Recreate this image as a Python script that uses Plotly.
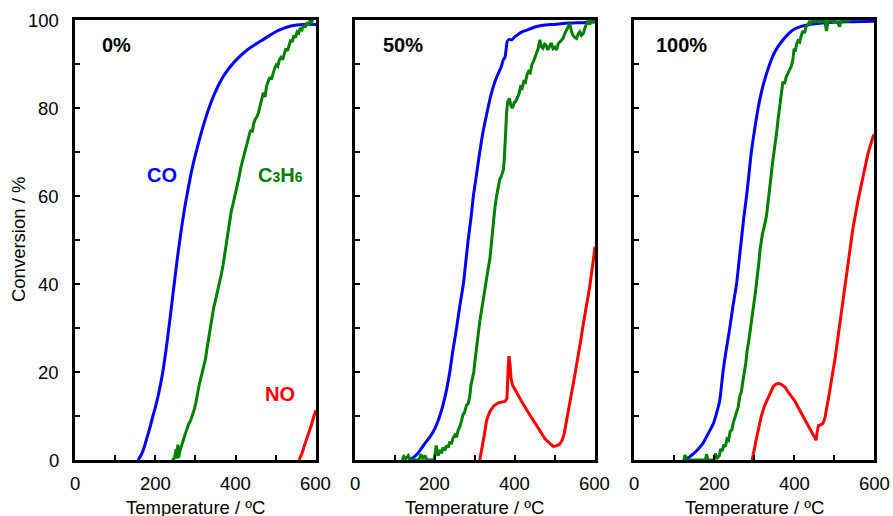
import plotly.graph_objects as go

# Light-off curves: (temperature / degC, conversion / %) for each feed condition

# ---- 0% ----
co_0 = [(157, 0), (165, 1.2), (172, 2.8), (179, 5), (187, 7.5), (194, 10), (201, 12.3),
        (208, 15), (214, 17.7), (220, 20.8), (226, 24.6), (233, 29.5), (240, 34.7),
        (247, 40), (254, 45.2), (261, 50), (268, 54.4), (275, 58.3), (283, 62.3),
        (292, 66.4), (303, 70.5), (317, 75.2), (332, 79.6), (350, 83.8), (372, 87.6),
        (398, 90.6), (430, 93.3), (469, 95.6), (505, 97.6), (540, 98.7), (570, 99),
        (600, 99)]
c3h6_0 = [(242, 0), (248, 0.5), (252, 2.5), (254, 0.3), (256, 3.5), (258, 0.5), (261, 2),
          (264, 3), (268, 4.2), (273, 5.5), (278, 6.8), (283, 8.2), (288, 9), (293, 10.2),
          (297, 11.5), (301, 13), (305, 15.5), (309, 17), (313, 18.5), (317, 20), (321, 21),
          (325, 23), (329, 25.5), (333, 28), (337, 30.5), (341, 32.5), (345, 34.5),
          (349, 36), (353, 37.5), (357, 39), (361, 40.5), (365, 42.5), (369, 44.5),
          (373, 47), (377, 49.5), (381, 51.5), (385, 54), (389, 56.5), (393, 58),
          (397, 59.5), (401, 61), (405, 62.5), (409, 64.5), (413, 66.5), (417, 68),
          (421, 69.5), (425, 71), (429, 72), (433, 73.5), (437, 75), (441, 74.5),
          (445, 76.5), (449, 77.5), (453, 78), (457, 79), (461, 80.5), (465, 82.5),
          (469, 83.5), (473, 82.5), (477, 85), (481, 86), (485, 87), (489, 86.5),
          (493, 88), (497, 89), (501, 89.8), (505, 89.5), (509, 91), (513, 91.5),
          (517, 91), (521, 92.5), (525, 93.5), (529, 93), (533, 94.5), (537, 95.5),
          (541, 95), (545, 96.5), (549, 96), (553, 97.3), (557, 97), (561, 98.2),
          (565, 97.8), (569, 98.8), (573, 98.3), (577, 99.2), (581, 99), (585, 99.8),
          (589, 99.5), (592, 100)]
no_0 = [(558, 0), (565, 1.5), (572, 3.5), (580, 5.5), (588, 7.8), (595, 10), (600, 11.3)]

# ---- 50% ----
co_50 = [(135, 0), (145, 0.5), (155, 1.3), (165, 2.5), (175, 3.8), (187, 5.2), (200, 7.2),
         (212, 10), (220, 12.5), (229, 16), (237, 20), (245, 25), (254, 30), (262, 35),
         (271, 40), (277, 45), (283, 50), (290, 55), (296, 60), (304, 65), (312, 70),
         (320, 74.5), (329, 78.5), (340, 83), (350, 86), (358, 87.8), (366, 89.5),
         (371, 91), (375, 91.5), (378, 93.5), (381, 95.2), (386, 95.6), (392, 95.5),
         (400, 96.2), (410, 96.9), (420, 97.4), (433, 97.8), (450, 98.4), (470, 98.8),
         (496, 99), (537, 99.3), (570, 99.4), (600, 99.6)]
c3h6_50 = [(118, 0), (122, 0.8), (127, 0.3), (133, 1), (138, 0), (160, 0), (165, 1.3),
           (170, 0.2), (175, 1), (180, 0), (198, 0), (203, 3.3), (208, 1), (212, 2.3),
           (216, 1.5), (220, 2.8), (225, 2.2), (229, 3.3), (233, 2.8), (237, 4.2),
           (241, 3.6), (245, 5), (250, 5.7), (254, 5.2), (258, 6.8), (262, 7.5),
           (266, 8.8), (270, 10.3), (274, 10.8), (279, 12.5), (283, 12.8), (287, 14.5),
           (290, 17), (293, 18.5), (297, 20), (300, 22.5), (304, 25), (308, 28.5),
           (312, 31.5), (316, 34), (320, 36.5), (324, 38.5), (329, 41), (333, 43.5),
           (337, 45.5), (342, 50), (346, 54.5), (350, 57.5), (354, 60), (358, 62),
           (362, 63.8), (366, 64.5), (371, 66), (373, 68), (375, 70.5), (377, 75),
           (379, 79), (382, 81.5), (386, 82.2), (390, 80.5), (394, 80), (398, 81.2),
           (402, 81.5), (406, 82.5), (410, 83.2), (414, 84.8), (418, 84.5), (422, 86),
           (426, 85.8), (430, 87.5), (434, 88.3), (438, 88), (442, 89.8), (446, 90.5),
           (450, 91.3), (454, 92.5), (458, 93.5), (462, 95.5), (466, 94), (470, 93.6),
           (474, 94.5), (478, 94.2), (482, 93.2), (487, 94), (491, 94.8), (495, 93.5),
           (500, 93.8), (504, 93.2), (508, 94.6), (512, 95), (516, 95.3), (520, 95.8),
           (524, 96.8), (528, 97.5), (532, 98.2), (537, 99.2), (541, 97.5), (545, 96.5),
           (550, 96), (554, 95.8), (558, 96.8), (562, 97.3), (566, 96.5), (571, 97),
           (575, 98.2), (579, 99.2), (583, 99.6), (587, 99), (591, 99.8), (596, 99.5),
           (600, 99.8)]
no_50 = [(312, 0), (317, 3), (323, 5.5), (329, 9), (337, 11), (346, 12.2), (358, 13),
         (375, 13.3), (380, 14), (383, 21), (385, 23.6), (388, 21.5), (390, 18.5),
         (394, 17), (404, 15.5), (416, 13.4), (429, 11.4), (446, 9), (462, 6.8),
         (475, 4.8), (487, 3.8), (496, 3.1), (504, 3.2), (512, 3.6), (518, 4.5),
         (523, 6), (529, 9), (535, 12.5), (542, 15.5), (550, 19.5), (557, 23),
         (564, 27), (571, 31), (579, 35), (587, 39.5), (596, 45.5), (600, 48.5)]

# ---- 100% ----
co_100 = [(128, 0), (135, 0.5), (145, 1.2), (155, 2), (165, 3), (172, 3.8), (185, 6),
          (198, 8.3), (207, 11), (214, 13.6), (222, 20), (230, 25), (239, 30), (247, 35),
          (256, 40), (262, 45), (268, 50), (274, 55), (281, 60), (287, 65), (293, 70),
          (301, 75), (310, 80), (322, 85), (339, 90), (352, 92.8), (368, 95), (385, 96.8),
          (402, 98), (420, 98.6), (440, 99), (470, 99.3), (500, 99.5), (550, 99.6),
          (600, 99.7)]
c3h6_100 = [(124, 0), (127, 1.2), (130, 0), (178, 0), (181, 1.3), (184, 0), (200, 0),
            (203, 1.5), (206, 0.3), (213, 1), (216, 2.5), (220, 2), (224, 3.5), (228, 3),
            (232, 4.8), (236, 4.5), (240, 6.5), (244, 6.8), (248, 8.5), (252, 9.5),
            (256, 11), (260, 12), (264, 14.5), (268, 15.5), (272, 18), (276, 19.8),
            (279, 22), (282, 24.5), (285, 27), (288, 28), (291, 30), (294, 32.5),
            (297, 34), (300, 36), (303, 38), (306, 40), (309, 42.5), (312, 45), (315, 48),
            (318, 50), (321, 51.5), (324, 52.5), (328, 54), (331, 55.5), (334, 58),
            (337, 60), (340, 62.5), (343, 65), (346, 67.5), (350, 70), (353, 72.5),
            (357, 75), (360, 77.5), (364, 80), (368, 83), (372, 86), (376, 85.5),
            (380, 87), (385, 88), (389, 89), (393, 89.5), (397, 91), (400, 93.5),
            (403, 92.8), (406, 94.5), (410, 95.3), (414, 95), (418, 96.5), (422, 97.5),
            (426, 97), (430, 98.5), (434, 98.8), (438, 99.5), (441, 99.2), (445, 99.8),
            (449, 100), (453, 99.6), (457, 99.8), (461, 99.5), (465, 99.9), (469, 99.6),
            (473, 99.9), (477, 99.7), (481, 97.5), (485, 99.8), (489, 99.7), (493, 100),
            (497, 99.5), (501, 99.8), (505, 99.6), (509, 99.4), (514, 98.5), (517, 99.6),
            (521, 99.8), (525, 99.9), (531, 99.7), (535, 99.9), (540, 99.8)]
no_100 = [(295, 0), (300, 2.5), (306, 5), (312, 7.5), (318, 10), (326, 12.3), (335, 14.2),
          (342, 15.8), (348, 16.7), (354, 17.2), (360, 17.4), (366, 17.3), (372, 17),
          (377, 16.6), (385, 15.5), (393, 14.5), (402, 13.4), (410, 12), (418, 10.6),
          (427, 9.1), (435, 7.8), (443, 6.5), (449, 5.5), (453, 5), (455, 4.5),
          (458, 6.5), (461, 7.8), (466, 8), (472, 8.3), (477, 9.5), (481, 11.4),
          (488, 15), (495, 19), (502, 22.7), (510, 28), (518, 33.3), (526, 39.5),
          (535, 45.5), (547, 52.5), (560, 59), (572, 64.5), (585, 69.7), (597, 73.3),
          (600, 74)]

panel_labels = ["0%", "50%", "100%"]
series = [(co_0, c3h6_0, no_0), (co_50, c3h6_50, no_50), (co_100, c3h6_100, no_100)]

x_tick_values = [0, 200, 400, 600]
y_tick_values = [0, 20, 40, 60, 80, 100]

x_title = "Temperature / ºC"
y_title = "Conversion / %"

BLUE, GREEN, RED = "#0000FF", "#008000", "#FF0000"
FONT = "Arial, Liberation Sans, sans-serif"
TICK_FONT = dict(family=FONT, size=18.5, color="black")

fig = go.Figure()

domains = [(0.0, 0.3016), (0.3504, 0.6508), (0.700, 1.0)]

for i, (co, hc, no) in enumerate(series):
    n = "" if i == 0 else str(i + 1)
    xr, yr = "x" + n, "y" + n
    for data, color, shape in ((co, BLUE, "spline"), (hc, GREEN, "linear"), (no, RED, "linear")):
        fig.add_trace(go.Scatter(
            x=[p[0] for p in data], y=[p[1] for p in data],
            mode="lines", line=dict(color=color, width=3, shape=shape, smoothing=0.6),
            xaxis=xr, yaxis=yr, showlegend=False, hoverinfo="skip"))

    axis_common = dict(showline=True, linecolor="black", linewidth=2.8, mirror=True,
                       showgrid=False, zeroline=False, ticks="inside", ticklen=5,
                       tickwidth=1.6, tickcolor="black", showticklabels=False)
    fig.layout["xaxis" + n] = dict(
        axis_common, domain=domains[i], range=[0, 600], dtick=200, tick0=0, anchor=yr,
        minor=dict(dtick=100, ticks="inside", ticklen=5, tickwidth=1.6, tickcolor="black"))
    fig.layout["yaxis" + n] = dict(
        axis_common, domain=[0, 1], range=[0, 100], dtick=20, tick0=0, anchor=xr,
        minor=dict(dtick=10, ticks="inside", ticklen=5, tickwidth=1.6, tickcolor="black"))

    # temperature tick labels, set a little below the frame
    for v in x_tick_values:
        fig.add_annotation(text=str(v), xref=xr, yref=yr + " domain", x=v, y=0,
                           xanchor="center", yanchor="middle", yshift=-23.5,
                           showarrow=False, font=TICK_FONT)

    fig.add_annotation(text="<b>%s</b>" % panel_labels[i], xref=xr, yref=yr,
                       x=[62, 64, 48.5][i], y=94.3, xanchor="left", yanchor="middle",
                       showarrow=False, font=dict(family=FONT, size=20, color="black"))
    fig.add_annotation(text=x_title, xref=xr + " domain", yref="paper",
                       x=0.5, y=-0.109, xanchor="center", yanchor="middle",
                       showarrow=False, font=TICK_FONT)

# conversion tick labels on the first panel
for v in y_tick_values:
    fig.add_annotation(text=str(v), xref="x domain", yref="y", x=0, y=v,
                       xanchor="right", yanchor="middle", xshift=-14, showarrow=False,
                       font=TICK_FONT)

# curve labels in the first panel
fig.add_annotation(text="<b>CO</b>", xref="x", yref="y", x=173.6, y=64.8,
                   xanchor="left", yanchor="middle", showarrow=False,
                   font=dict(family=FONT, size=20, color=BLUE))
fig.add_annotation(text="<b>C<span style='font-size:14px'>3</span>H"
                        "<span style='font-size:14px'>6</span></b>",
                   xref="x", yref="y", x=450, y=64.8,
                   xanchor="left", yanchor="middle", showarrow=False,
                   font=dict(family=FONT, size=20, color=GREEN))
fig.add_annotation(text="<b>NO</b>", xref="x", yref="y", x=468, y=15,
                   xanchor="left", yanchor="middle", showarrow=False,
                   font=dict(family=FONT, size=20, color=RED))

fig.add_annotation(text=y_title, xref="paper", yref="paper", x=-0.0713, y=0.5,
                   xanchor="center", yanchor="middle", textangle=-90, showarrow=False,
                   font=TICK_FONT)

fig.update_layout(width=893, height=516, margin=dict(l=75, r=19, t=20, b=56),
                  paper_bgcolor="white", plot_bgcolor="white")

fig.write_html("out.html")
